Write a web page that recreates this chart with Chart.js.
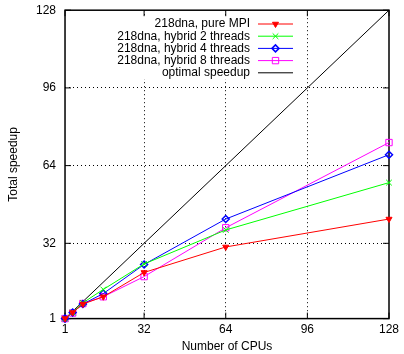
<!DOCTYPE html>
<html>
<head>
<meta charset="utf-8">
<script src="https://cdn.jsdelivr.net/npm/chart.js@4/dist/chart.umd.min.js"></script>
<style>
  html, body { margin: 0; padding: 0; background: #fff; }
  #wrap { width: 404px; height: 354px; }
</style>
</head>
<body>
<div id="wrap"><canvas id="speedupChart"></canvas></div>
<script>
// values
const cpus = [1, 4, 8, 16, 32, 64, 128];
const pureMPI = [1, 3.5, 7, 10, 20, 30.5, 42];
const hybrid2 = [1, 3.5, 7.5, 13, 23.5, 37.5, 57];
const hybrid4 = [1, 3.5, 7, 11.3, 23.3, 42, 68.5];
const hybrid8 = [1, 3.3, 7.2, 10, 18.3, 38.4, 73.5];
const optimalX = [1, 128];
const optimalY = [1, 128];
const tickValues = [1, 32, 64, 96, 128];

const FONT = '"Liberation Sans", Arial, Helvetica, sans-serif';
Chart.defaults.font.family = FONT;
Chart.defaults.font.size = 12;
Chart.defaults.color = '#000';

const pts = (xs, ys) => xs.map((x, i) => ({ x: x, y: ys[i] }));

function series(label, color, ys, style, extra) {
  return Object.assign({
    label: label,
    data: pts(cpus, ys),
    borderColor: color,
    backgroundColor: color,
    borderWidth: 1,
    pointStyle: style,
    pointRadius: 3.5,
    pointHoverRadius: 3.5,
    pointBorderColor: color,
    pointBackgroundColor: 'rgba(0,0,0,0)',
    pointBorderWidth: 1,
    tension: 0,
    clip: false
  }, extra || {});
}

// gnuplot-like frame, inward ticks and key
const gnuplotLook = {
  id: 'gnuplotLook',
  beforeDatasetsDraw(chart) {
    const { ctx, chartArea: a, scales } = chart;
    ctx.save();
    ctx.strokeStyle = '#000';
    ctx.lineWidth = 1;
    ctx.beginPath();
    tickValues.forEach(v => {
      const x = scales.x.getPixelForValue(v), y = scales.y.getPixelForValue(v);
      ctx.moveTo(x, a.bottom); ctx.lineTo(x, a.bottom - 6);
      ctx.moveTo(x, a.top); ctx.lineTo(x, a.top + 6);
      ctx.moveTo(a.left, y); ctx.lineTo(a.left + 6, y);
      ctx.moveTo(a.right, y); ctx.lineTo(a.right - 6, y);
    });
    ctx.stroke();
    ctx.lineWidth = 1.5;
    ctx.strokeRect(a.left, a.top, a.right - a.left, a.bottom - a.top);

    // key
    const sets = chart.data.datasets;
    const rowH = 12.2, top = 24, textRight = 250, sampleL = 258, sampleR = 293;
    ctx.font = '12px ' + FONT;
    let maxW = 0;
    sets.forEach(ds => { maxW = Math.max(maxW, ctx.measureText(ds.label).width); });
    ctx.fillStyle = '#fff';
    ctx.fillRect(textRight - maxW - 3, top - 6, sampleR - textRight + maxW + 6, rowH * sets.length);
    sets.forEach((ds, i) => {
      const y = top + i * rowH;
      ctx.fillStyle = '#000';
      ctx.textAlign = 'right';
      ctx.textBaseline = 'middle';
      ctx.fillText(ds.label, textRight, y);
      ctx.strokeStyle = ds.borderColor;
      ctx.lineWidth = 1;
      ctx.beginPath(); ctx.moveTo(sampleL, y); ctx.lineTo(sampleR, y); ctx.stroke();
      if (ds.pointRadius > 0 && Chart.helpers && Chart.helpers.drawPoint) {
        ctx.fillStyle = ds.pointBackgroundColor;
        ctx.strokeStyle = ds.pointBorderColor;
        ctx.lineWidth = ds.pointBorderWidth;
        Chart.helpers.drawPoint(ctx, {
          pointStyle: ds.pointStyle, rotation: ds.pointRotation || 0,
          radius: ds.pointRadius, borderWidth: ds.pointBorderWidth
        }, (sampleL + sampleR) / 2, y);
      }
    });
    ctx.restore();
  }
};

function axis(title, titlePad) {
  return {
    type: 'linear',
    min: 1,
    max: 128,
    afterBuildTicks: s => { s.ticks = tickValues.map(v => ({ value: v })); },
    grid: {
      drawTicks: false,
      color: c => (c.tick && (c.tick.value === 1 || c.tick.value === 128)) ? 'rgba(0,0,0,0)' : '#000',
      lineWidth: 1
    },
    border: { display: false, dash: [1, 3] },
    title: { display: true, text: title, padding: titlePad, font: { size: 12, lineHeight: 1 } }
  };
}

const xAxis = axis('Number of CPUs', { top: 0, bottom: 1 });
xAxis.ticks = { padding: 4, maxRotation: 0, autoSkip: false };
const yAxis = axis('Total speedup', { top: 8, bottom: 7 });
// small lineHeight keeps the top overhang tight; single-line labels stay centred
yAxis.ticks = { padding: 9, autoSkip: false, font: { size: 12, lineHeight: 0.2 } };

new Chart(document.getElementById('speedupChart'), {
  type: 'line',
  data: {
    datasets: [
      series('218dna, pure MPI', '#ff0000', pureMPI, 'triangle',
        { pointRotation: 180, pointBackgroundColor: '#ff0000', pointRadius: 3.5 }),
      series('218dna, hybrid 2 threads', '#00ff00', hybrid2, 'crossRot', { pointRadius: 4 }),
      series('218dna, hybrid 4 threads', '#0000ff', hybrid4, 'rectRot', { pointBorderWidth: 1.5 }),
      series('218dna, hybrid 8 threads', '#ff00ff', hybrid8, 'rect', { pointRadius: 4.5 }),
      {
        label: 'optimal speedup',
        data: pts(optimalX, optimalY),
        borderColor: '#000',
        backgroundColor: '#000',
        borderWidth: 1,
        pointRadius: 0,
        pointHoverRadius: 0,
        clip: false
      }
    ]
  },
  options: {
    responsive: true,
    maintainAspectRatio: false,
    animation: false,
    layout: { padding: { left: 0, right: 15, top: 10, bottom: 0 } },
    plugins: { legend: { display: false }, tooltip: { enabled: false } },
    scales: { x: xAxis, y: yAxis }
  },
  plugins: [gnuplotLook]
});
</script>
</body>
</html>
